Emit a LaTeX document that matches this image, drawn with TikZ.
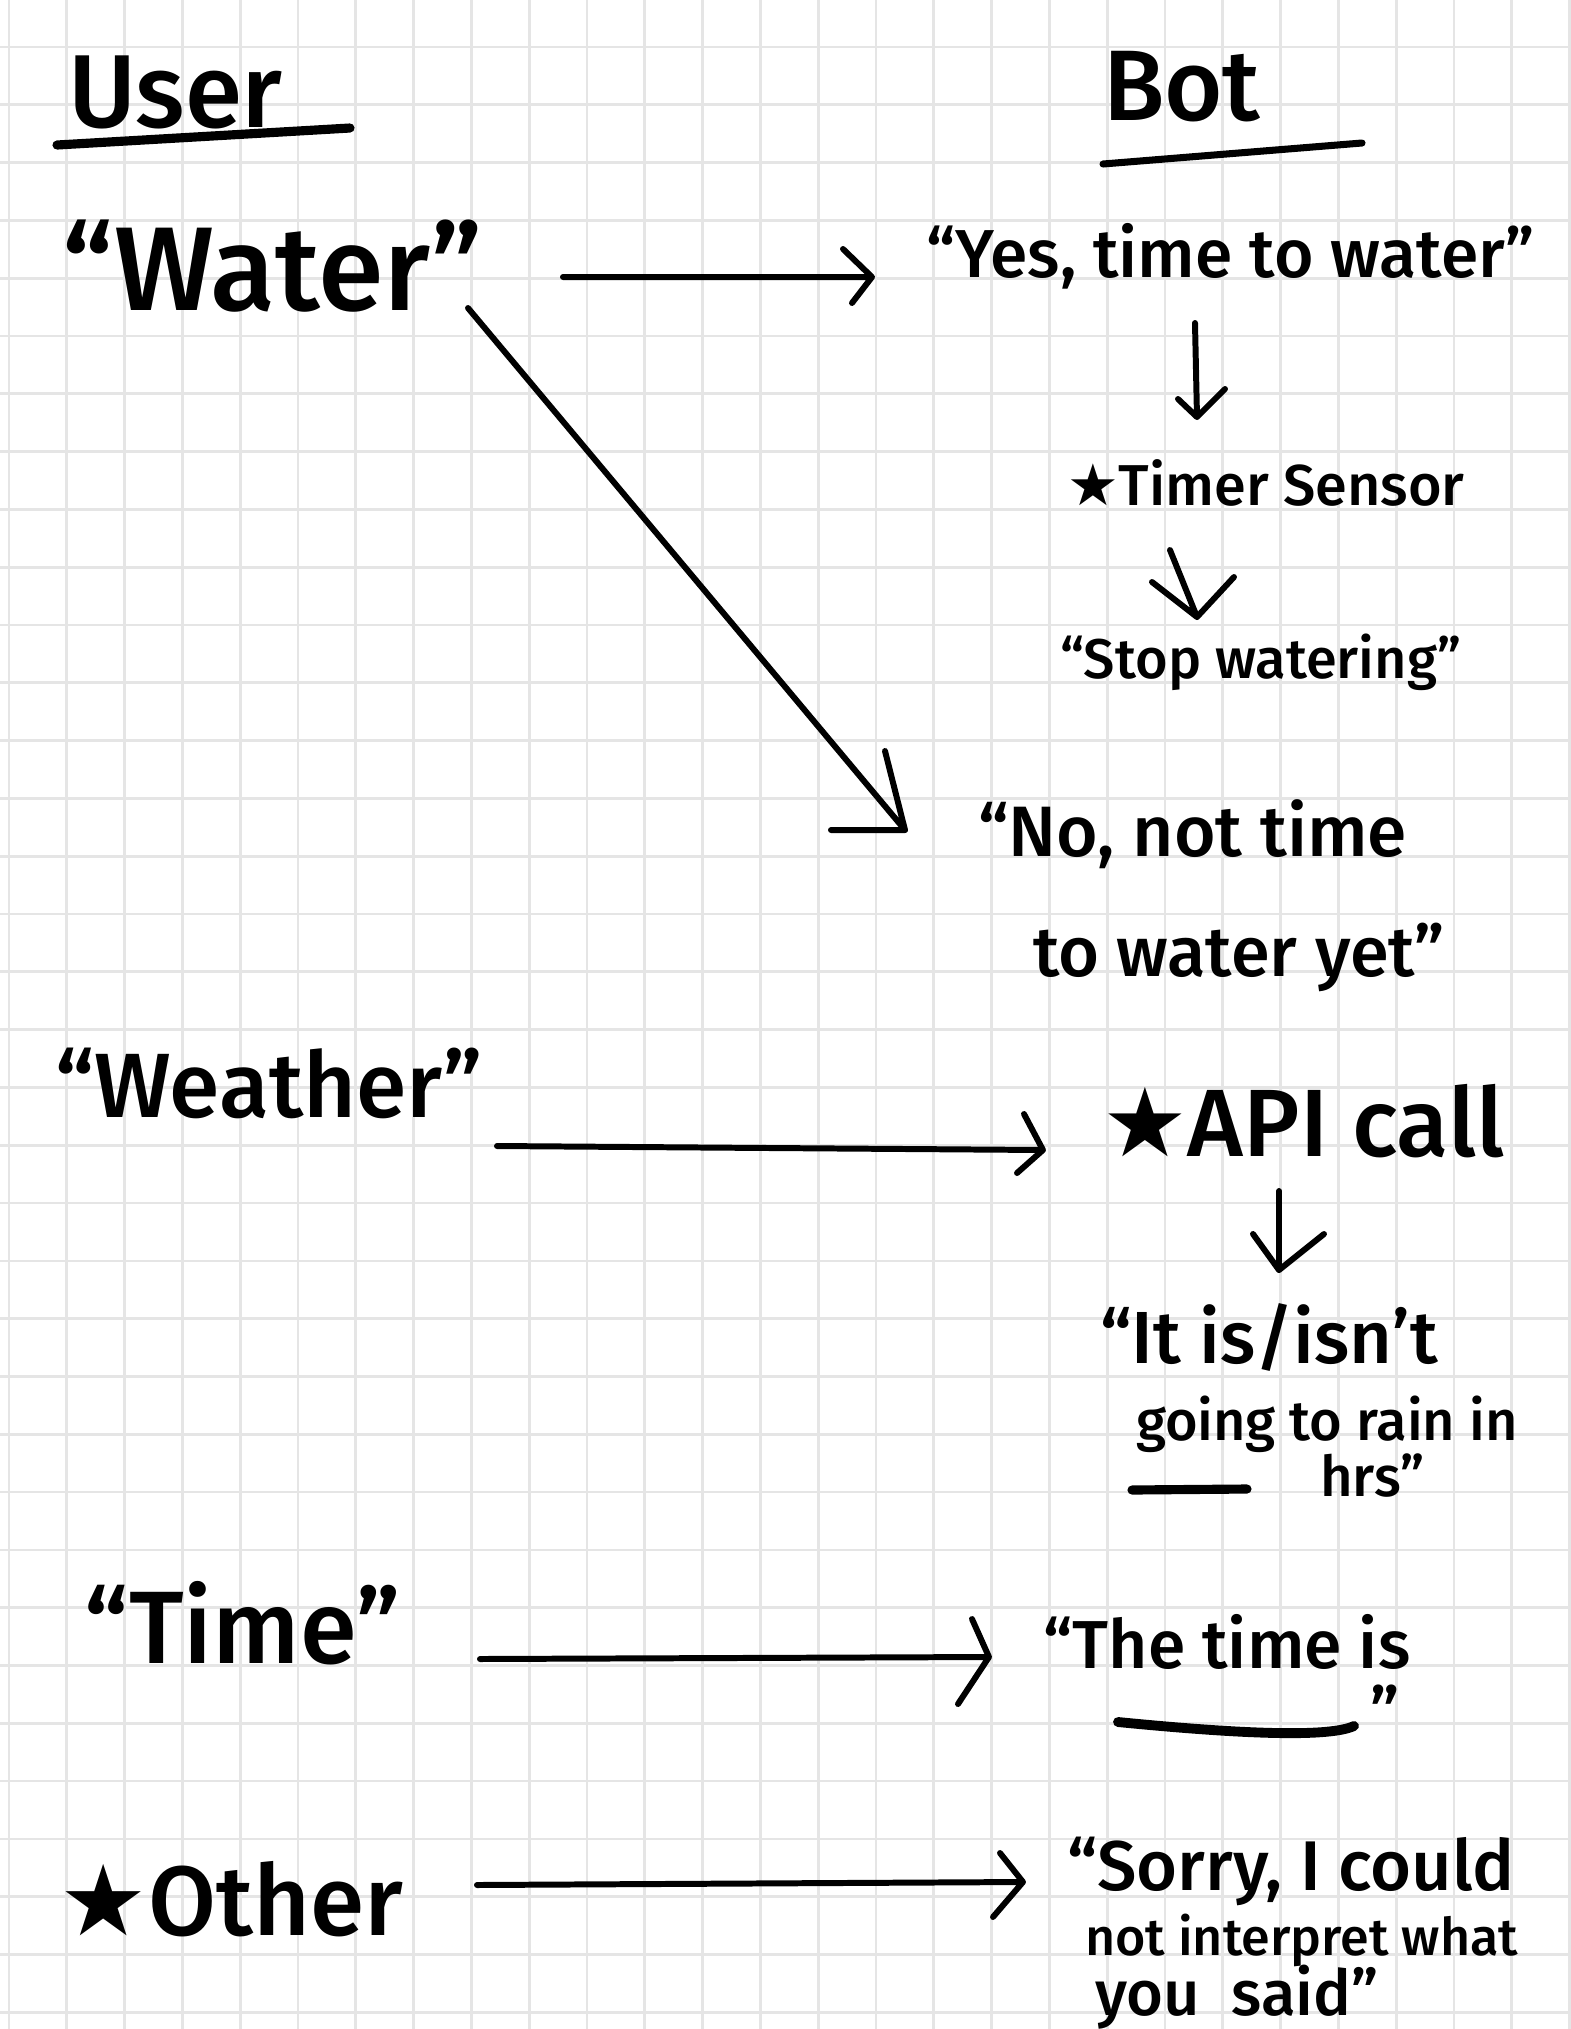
\documentclass[tikz,border=0pt]{standalone}
\usepackage{fontspec}
\setmainfont{Fira Sans}
\newfontfamily\medf{Fira Sans Medium}
\newfontfamily\symf{DejaVu Sans}
\newcommand{\tx}[2]{\fontsize{#1}{#1}\selectfont\medf #2}
\newcommand{\starmark}{{\symf ★}}
\begin{document}
\begin{tikzpicture}[x=0.01cm,y=-0.01cm,
  txt/.style={anchor=base west, inner sep=0pt, outer sep=0pt},
  ink/.style={line width=1.7pt, line cap=round, line join=round, black},
  pen/.style={line width=2.6pt, line cap=round, black},
  gridline/.style={line width=0.75pt, gray!20}]
\useasboundingbox (0,0) rectangle (1571,2029);
\fill[white] (0,0) rectangle (1571,2029);
% grid paper
\foreach \i in {0,...,27} \draw[gridline] ({9+57.8*\i},0) -- ({9+57.8*\i},2029);
\foreach \j in {0,...,34} \draw[gridline] (0,{47+57.8*\j}) -- (1571,{47+57.8*\j});

% headings
\node[txt] (user) at (68,127) {\tx{29.5pt}{User}};
\draw[pen] (57,145) -- (350,128);
\node[txt] (bot) at (1103,120) {\tx{28.5pt}{Bot}};
\draw[pen, line width=2pt] (1103,164) -- (1362,143);

% user side
\node[txt] (water) at (63,310) {\tx{33.9pt}{“Water”}};
\node[txt] (weather) at (55,1117) {\tx{26pt}{“Weather”}};
\node[txt] (time) at (84,1663) {\tx{29.3pt}{“Time”}};
\node[txt] (other) at (60,1935) {\tx{28pt}{\starmark Other}};

% bot side
\node[txt] (yes) at (926,277) {\tx{19.3pt}{“Yes, time to water”}};
\node[txt] (timer) at (1067,505) {\tx{16.4pt}{\starmark Timer Sensor}};
\node[txt] (stop) at (1060,678) {\tx{15.9pt}{“Stop watering”}};
\node[txt] (no1) at (978,856) {\tx{20.3pt}{“No, not time}};
\node[txt] (no2) at (1033,976) {\tx{20pt}{to water yet”}};
\node[txt] (api) at (1102,1156) {\tx{27.2pt}{\starmark API call}};
\node[txt] (it1) at (1100,1363) {\tx{21pt}{“It is/isn’t}};
\node[txt] (it2) at (1136,1440) {\tx{15.9pt}{going to rain in}};
\node[txt] (it3) at (1320,1496) {\tx{16pt}{hrs”}};
\draw[pen] (1132,1490) -- (1247,1489);
\node[txt] (thetime) at (1043,1668) {\tx{19.3pt}{“The time is}};
\node[anchor=north west, inner sep=0pt] (thetimeq) at (1370,1684) {\tx{19.3pt}{”}};
\draw[pen, line width=2.8pt] (1118,1722) .. controls (1250,1735) and (1330,1737) .. (1354,1726);
\node[txt] (sorry1) at (1067,1890) {\tx{20pt}{“Sorry, I could}};
\node[txt] (sorry2) at (1085,1955) {\tx{14.8pt}{not interpret what}};
\node[txt] (sorry3) at (1095,2015) {\tx{18pt}{you\hspace{0.5em}said”}};

% connector end points
\coordinate (a1s) at (563,277);   \coordinate (a1t) at (872,277);
\coordinate (a2s) at (468,308);   \coordinate (a2t) at (905,830);
\coordinate (a3s) at (1195,323);  \coordinate (a3t) at (1197,417);
\coordinate (a4s) at (1170,550);  \coordinate (a4t) at (1197,617);
\coordinate (a5s) at (497,1146);  \coordinate (a5t) at (1043,1150);
\coordinate (a6s) at (1279,1191); \coordinate (a6t) at (1279,1270);
\coordinate (a7s) at (480,1659);  \coordinate (a7t) at (989,1657);
\coordinate (a8s) at (477,1885);  \coordinate (a8t) at (1023,1882);

% connectors with hand-drawn open heads
\draw[ink] (a1s) -- (a1t) -- +(-29,-28) (a1t) -- +(-20,26);
\draw[ink] (a2s) -- (a2t) -- +(-20,-79) (a2t) -- +(-74,0);
\draw[ink] (a3s) -- (a3t) -- +(-19,-18) (a3t) -- +(28,-28);
\draw[ink] (a4s) -- (a4t) -- +(-45,-35) (a4t) -- +(37,-40);
\draw[ink] (a5s) -- (a5t) -- +(-19,-36) (a5t) -- +(-26,23);
\draw[ink] (a6s) -- (a6t) -- +(-26,-36) (a6t) -- +(45,-36);
\draw[ink] (a7s) -- (a7t) -- +(-17,-38) (a7t) -- +(-31,47);
\draw[ink] (a8s) -- (a8t) -- +(-23,-29) (a8t) -- +(-30,35);
\end{tikzpicture}
\end{document}
